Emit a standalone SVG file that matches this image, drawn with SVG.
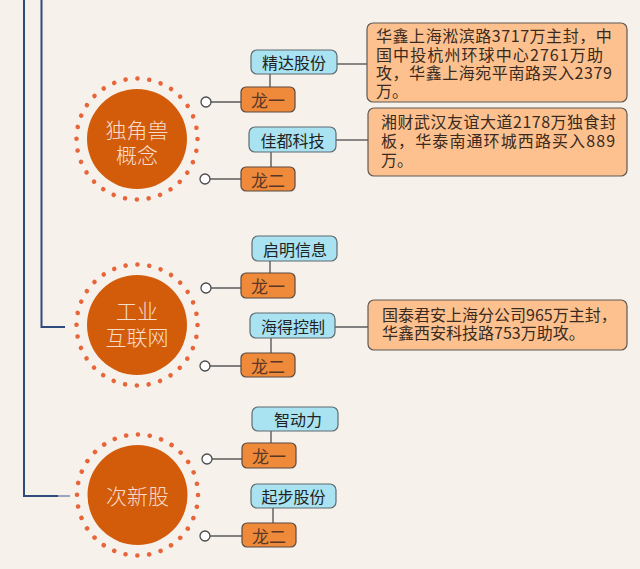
<svg xmlns="http://www.w3.org/2000/svg" width="640" height="569" viewBox="0 0 640 569">
<style>
.bg{fill:#f6f1eb}
.navy{stroke:#2f4b7e;stroke-width:2;fill:none}
.stub{stroke:#9aa5bb;stroke-width:2;fill:none}
.ln{stroke:#5a5a5a;stroke-width:1.4;fill:none}
.end{fill:#ffffff;stroke:#4a4a4a;stroke-width:1.3}
.ring{fill:none;stroke:#e8653a;stroke-width:4.6;stroke-linecap:round;stroke-dasharray:0.001 11.878}
.hub{fill:#d35c0b}
.hubt{font-family:"Noto Sans CJK SC","Noto Sans",sans-serif;font-size:21px;font-weight:300;fill:#f6dccb;text-anchor:middle;dominant-baseline:central}
.blue{fill:#a9e3f2;stroke:#5f6b70;stroke-width:1.2}
.org{fill:#ef8a3b;stroke:#5a4a40;stroke-width:1.2}
.note{fill:#fcc18f;stroke:#5f5a55;stroke-width:1.2}
.bt{font-family:"Noto Sans CJK SC","Noto Sans",sans-serif;font-size:16px;fill:#222;text-anchor:middle;dominant-baseline:central}
.ot{font-family:"Noto Sans CJK SC","Noto Sans",sans-serif;font-size:17px;fill:#5a3826;text-anchor:middle;dominant-baseline:central}
.nt{font-family:"Noto Sans CJK SC","Noto Sans",sans-serif;font-size:16px;fill:#3a2a20}
</style>
<rect class="bg" x="0" y="0" width="640" height="569"/>

<g id="connectors">
  <polyline class="navy" points="24,0 24,496 58,496"/>
  <line class="stub" x1="58" y1="496" x2="70" y2="496"/>
  <polyline class="navy" points="41.5,0 41.5,327 65,327"/>
  <line class="ln" x1="206" y1="102" x2="241" y2="102"/>
  <line class="ln" x1="205" y1="179" x2="241" y2="179"/>
  <line class="ln" x1="270" y1="74" x2="270" y2="87"/>
  <line class="ln" x1="271" y1="152" x2="271" y2="167"/>
  <line class="ln" x1="337" y1="64" x2="367" y2="64"/>
  <line class="ln" x1="336" y1="140" x2="368" y2="140"/>
  <line class="ln" x1="206" y1="288" x2="241" y2="288"/>
  <line class="ln" x1="205" y1="366" x2="241" y2="366"/>
  <line class="ln" x1="270" y1="261" x2="270" y2="273"/>
  <line class="ln" x1="271" y1="338" x2="271" y2="353"/>
  <line class="ln" x1="335" y1="327" x2="368" y2="327"/>
  <line class="ln" x1="207" y1="459" x2="242" y2="459"/>
  <line class="ln" x1="205" y1="536" x2="242" y2="536"/>
  <line class="ln" x1="271" y1="431" x2="271" y2="443"/>
  <line class="ln" x1="273" y1="508" x2="273" y2="523"/>
  <circle class="end" cx="206" cy="102" r="5"/>
  <circle class="end" cx="205" cy="179" r="5"/>
  <circle class="end" cx="206" cy="288" r="5"/>
  <circle class="end" cx="205" cy="366" r="5"/>
  <circle class="end" cx="207" cy="459" r="5"/>
  <circle class="end" cx="205" cy="536" r="5"/>
</g>

<g id="hub-unicorn">
  <circle class="ring" cx="137" cy="139" r="60.5"/>
  <circle class="hub" cx="137" cy="139" r="50"/>
  <text class="hubt" x="137" y="129">独角兽<tspan x="137" dy="25">概念</tspan></text>
</g>
<g id="hub-industrial">
  <circle class="ring" cx="137" cy="325" r="60.5"/>
  <circle class="hub" cx="137" cy="325" r="50"/>
  <text class="hubt" x="137" y="310">工业<tspan x="137" dy="26">互联网</tspan></text>
</g>
<g id="hub-newstock">
  <circle class="ring" cx="137.5" cy="495" r="60.5"/>
  <circle class="hub" cx="137.5" cy="495" r="50"/>
  <text class="hubt" x="137.5" y="495">次新股</text>
</g>

<g id="u-long1">
  <rect class="org" x="241" y="87" width="54" height="25" rx="5"/>
  <text class="ot" x="268" y="99.5">龙一</text>
</g>
<g id="u-jingda">
  <rect class="blue" x="251" y="50" width="86" height="24" rx="6"/>
  <text class="bt" x="294" y="62">精达股份</text>
</g>
<g id="u-long2">
  <rect class="org" x="241" y="167" width="54" height="24" rx="5"/>
  <text class="ot" x="268" y="179">龙二</text>
</g>
<g id="u-jiadu">
  <rect class="blue" x="249" y="127" width="87" height="25" rx="6"/>
  <text class="bt" x="292.5" y="139.5">佳都科技</text>
</g>
<g id="u-note1">
  <rect class="note" x="367" y="23" width="260" height="79" rx="6"/>
  <text class="nt" x="376" y="42"><tspan x="376" y="42" letter-spacing="0.55">华鑫上海淞滨路3717万主封，中</tspan><tspan x="376" y="60.5" letter-spacing="1.1">国中投杭州环球中心2761万助</tspan><tspan x="376" y="79" letter-spacing="0.55">攻，华鑫上海宛平南路买入2379</tspan><tspan x="376" y="97">万。</tspan></text>
</g>
<g id="u-note2">
  <rect class="note" x="368" y="108" width="259" height="68" rx="6"/>
  <text class="nt" x="381" y="128"><tspan x="381" y="128" letter-spacing="0.5">湘财武汉友谊大道2178万独食封</tspan><tspan x="381" y="147" letter-spacing="1.1">板，华泰南通环城西路买入889</tspan><tspan x="381" y="166">万。</tspan></text>
</g>

<g id="i-long1">
  <rect class="org" x="241" y="273" width="54" height="25" rx="5"/>
  <text class="ot" x="268" y="285.5">龙一</text>
</g>
<g id="i-qiming">
  <rect class="blue" x="252" y="236" width="85" height="25" rx="6"/>
  <text class="bt" x="295" y="248.5">启明信息</text>
</g>
<g id="i-long2">
  <rect class="org" x="241" y="353" width="54" height="24" rx="5"/>
  <text class="ot" x="268" y="365">龙二</text>
</g>
<g id="i-haide">
  <rect class="blue" x="250" y="313" width="85" height="25" rx="6"/>
  <text class="bt" x="293" y="325.5">海得控制</text>
</g>
<g id="i-note">
  <rect class="note" x="368" y="300" width="259" height="50" rx="6"/>
  <text class="nt" x="382" y="321"><tspan x="382" y="321">国泰君安上海分公司965万主封，</tspan><tspan x="382" y="339">华鑫西安科技路753万助攻。</tspan></text>
</g>

<g id="n-long1">
  <rect class="org" x="242" y="443" width="54" height="25" rx="5"/>
  <text class="ot" x="269" y="455.5">龙一</text>
</g>
<g id="n-zhidongli">
  <rect class="blue" x="252" y="407" width="86" height="24" rx="6"/>
  <text class="bt" x="298" y="419">智动力</text>
</g>
<g id="n-long2">
  <rect class="org" x="242" y="523" width="54" height="24" rx="5"/>
  <text class="ot" x="269" y="535">龙二</text>
</g>
<g id="n-qibu">
  <rect class="blue" x="251" y="484" width="85" height="24" rx="6"/>
  <text class="bt" x="293.5" y="496">起步股份</text>
</g>
</svg>
